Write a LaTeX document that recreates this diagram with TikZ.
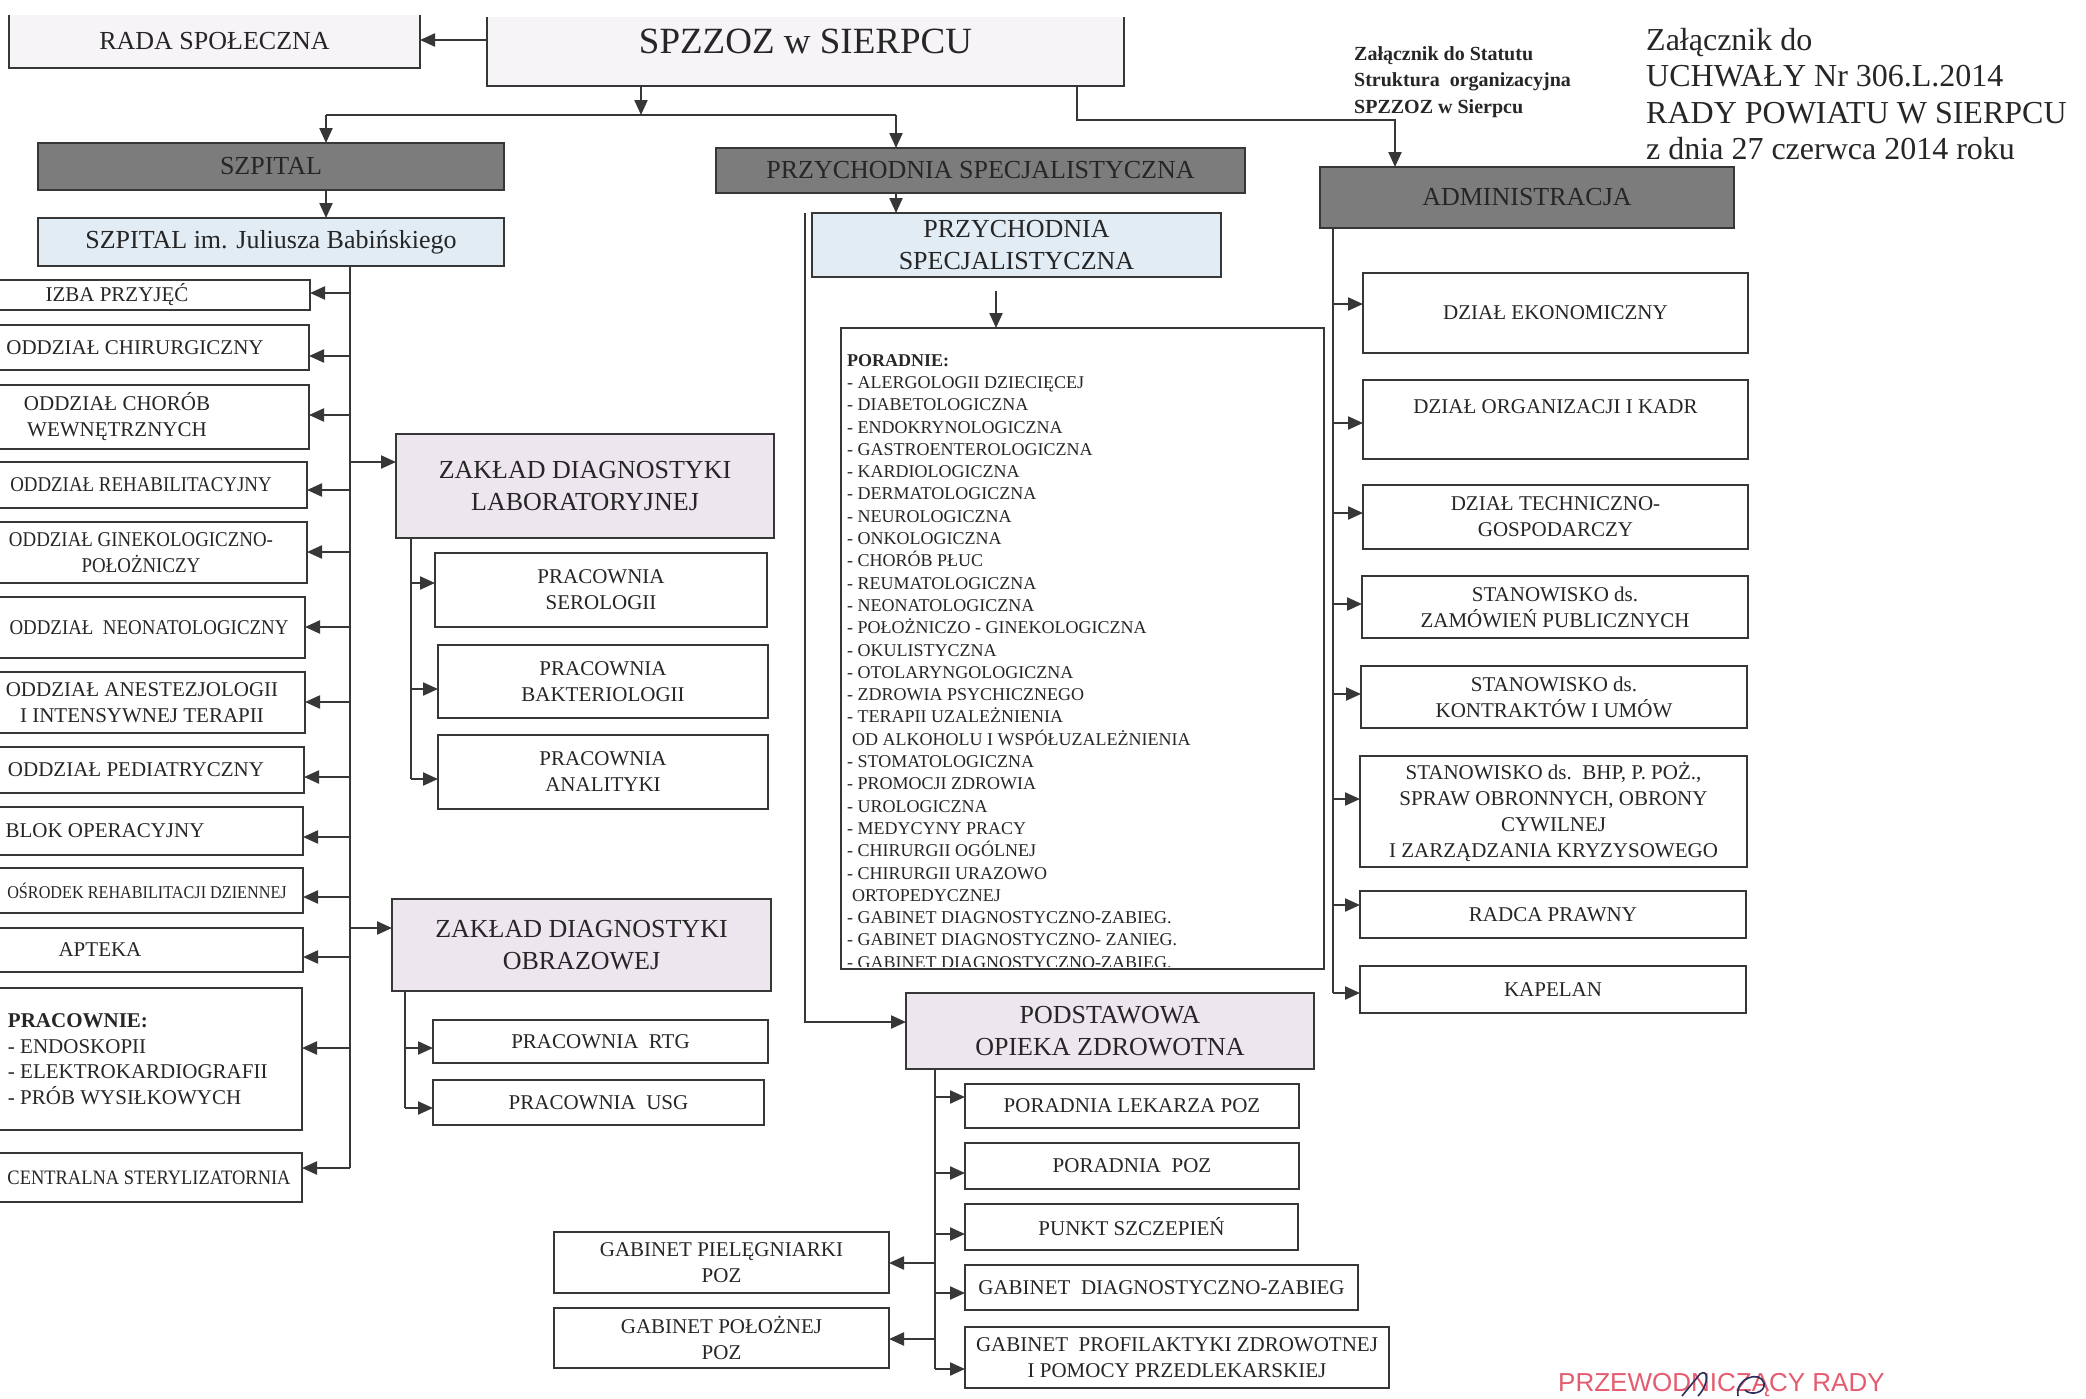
\documentclass[tikz,border=0pt]{standalone}
\usepackage{fontspec}
\setmainfont{Liberation Serif}
\newfontfamily\sansf{Liberation Sans}
\newfontfamily\condf{Liberation Serif}[FakeStretch=0.9]
\usetikzlibrary{arrows.meta}
\definecolor{lc}{RGB}{55,55,55}
\definecolor{tc}{RGB}{38,38,38}
\definecolor{dk}{RGB}{124,124,124}
\definecolor{lblue}{RGB}{226,236,244}
\definecolor{lpink}{RGB}{238,230,238}
\definecolor{lwhite}{RGB}{247,244,247}
\definecolor{stamp}{RGB}{228,92,112}
\definecolor{ink}{RGB}{40,45,90}
\newcommand{\fs}[2]{\fontsize{#1}{#2}\selectfont}
\newcommand{\mybox}[7]{\node[#6, minimum width={(#4)-(#2)}, minimum height={(#5)-(#3)}] (#1) at ({((#2)+(#4))/2},{((#3)+(#5))/2}) {#7};}
\begin{document}
\begin{tikzpicture}[x=1pt,y=-1pt,
 base/.style={draw=lc, line width=2.4pt, inner sep=0pt, outer sep=0pt, align=center, text=tc},
 darkbox/.style={base, fill=dk, font=\fs{26}{32}},
 lightbox/.style={base, font=\fs{26}{32}},
 plainbox/.style={base, fill=white, font=\fs{21}{26}},
 openbox/.style={inner sep=0pt, outer sep=0pt, align=center, text=tc, fill=lwhite},
 txt/.style={inner sep=0pt, outer sep=0pt, align=center, text=tc, font=\fs{21}{26}},
 ctxt/.style={txt, font=\condf\fs{21}{26}},
 arr/.style={draw=lc, line width=2.2pt, -{Triangle[length=15pt,width=13pt]}},
 ln/.style={draw=lc, line width=2.2pt},
 bord/.style={draw=lc, line width=2.4pt},
]
\path[use as bounding box, fill=white] (0,0) rectangle (2086,1398);

% ---------- top ----------
\mybox{rada}{9}{15}{420}{68}{openbox, font=\fs{26}{32}}{RADA SPOŁECZNA}
\draw[bord] (rada.north west) -- (rada.south west) -- (rada.south east) -- (rada.north east);
\mybox{spzzoz}{487}{17}{1124}{86}{openbox, font=\fs{37}{44}}{\raisebox{10.5pt}[\height][\depth]{SPZZOZ w SIERPCU}}
\draw[bord] (spzzoz.north west) -- (spzzoz.south west) -- (spzzoz.south east) -- (spzzoz.north east);
\coordinate (r0) at (487,40);
\draw[arr] (r0) -- (r0 -| rada.east);

\mybox{szpital}{38}{143}{504}{190}{darkbox}{SZPITAL}
\mybox{szpim}{38}{218}{504}{266}{lightbox, fill=lblue}{SZPITAL im. Juliusza Babińskiego}
\mybox{psd}{716}{148}{1245}{193}{darkbox}{PRZYCHODNIA SPECJALISTYCZNA}
\mybox{psl}{812}{213}{1221}{277}{lightbox, fill=lblue}{PRZYCHODNIA\\SPECJALISTYCZNA}
\mybox{admin}{1320}{167}{1734}{228}{darkbox}{ADMINISTRACJA}

\coordinate (j1) at (641,115);
\coordinate (jl) at (326,115);
\coordinate (jr) at (896,115);
\draw[arr] (spzzoz.south -| j1) -- (j1);
\draw[ln] (jl) -- (jr);
\draw[arr] (jl) -- (jl |- szpital.north);
\draw[arr] (jr) -- (jr |- psd.north);
\draw[arr] (szpital.south -| jl) -- (szpim.north -| jl);
\draw[arr] (psd.south -| jr) -- (psl.north -| jr);
\coordinate (ja) at (1077,120);
\coordinate (jb) at (1395,120);
\draw[arr] (spzzoz.south -| ja) -- (ja) -- (jb) -- (jb |- admin.north);

% ---------- hospital: boxes (left edge beyond the page) ----------
\mybox{izba}{-75}{280}{310}{310}{plainbox}{}
\mybox{chir}{-75}{325}{309}{370}{plainbox}{}
\mybox{wewn}{-75}{385}{309}{449}{plainbox}{}
\mybox{rehab}{-75}{462}{307}{508}{plainbox}{}
\mybox{gin}{-75}{522}{307}{583}{plainbox}{}
\mybox{neo}{-75}{597}{305}{658}{plainbox}{}
\mybox{anest}{-75}{672}{305}{733}{plainbox}{}
\mybox{ped}{-75}{747}{304}{793}{plainbox}{}
\mybox{blok}{-75}{807}{303}{855}{plainbox}{}
\mybox{osr}{-75}{868}{303}{913}{plainbox}{}
\mybox{apt}{-75}{928}{303}{972}{plainbox}{}
\mybox{prac}{-75}{988}{302}{1130}{plainbox}{}
\mybox{ster}{-75}{1153}{302}{1202}{plainbox}{}
% texts kept inside the visible part of each box
\node[txt]  (izbaT)  at (117,295)   {IZBA PRZYJĘĆ};
\node[txt]  (chirT)  at (135,347.5) {ODDZIAŁ CHIRURGICZNY};
\node[txt]  (wewnT)  at (117,417)   {ODDZIAŁ CHORÓB\\WEWNĘTRZNYCH};
\node[ctxt] (rehabT) at (141,485)   {ODDZIAŁ REHABILITACYJNY};
\node[ctxt] (ginT)   at (141,552.5) {ODDZIAŁ GINEKOLOGICZNO-\\POŁOŻNICZY};
\node[ctxt] (neoT)   at (149,627.5) {ODDZIAŁ~~NEONATOLOGICZNY};
\node[txt]  (anestT) at (142,702.5) {ODDZIAŁ ANESTEZJOLOGII\\I INTENSYWNEJ TERAPII};
\node[txt]  (pedT)   at (136,770)   {ODDZIAŁ PEDIATRYCZNY};
\node[txt]  (blokT)  at (105,831)   {BLOK OPERACYJNY};
\node[ctxt, font=\condf\fs{18}{22}] (osrT) at (147,890.5) {OŚRODEK REHABILITACJI DZIENNEJ};
\node[txt]  (aptT)   at (100,950)   {APTEKA};
\node[txt, anchor=west, align=left, font=\fs{21}{25.5}] (pracT) at (8,1059) {\textbf{PRACOWNIE:}\\- ENDOSKOPII\\- ELEKTROKARDIOGRAFII\\- PRÓB WYSIŁKOWYCH};
\node[ctxt, font=\condf\fs{20.5}{25}] (sterT) at (149,1177.5) {CENTRALNA STERYLIZATORNIA};

\coordinate (ht) at (350,1168);
\draw[ln] (szpim.south -| ht) -- (ht);
\foreach \n/\yy in {izba/293, chir/356, wewn/415, rehab/490, gin/552, neo/627, anest/702, ped/777, blok/837, osr/897, apt/957, prac/1048, ster/1168}
  {\coordinate (t) at (350,\yy); \draw[arr] (t) -- (t -| \n.east);}

\mybox{zdl}{396}{434}{774}{538}{lightbox, fill=lpink}{ZAKŁAD DIAGNOSTYKI\\LABORATORYJNEJ}
\mybox{ser}{435}{553}{767}{627}{plainbox}{PRACOWNIA\\SEROLOGII}
\mybox{bak}{438}{645}{768}{718}{plainbox}{PRACOWNIA\\BAKTERIOLOGII}
\mybox{ana}{438}{735}{768}{809}{plainbox}{PRACOWNIA\\ANALITYKI}
\coordinate (t1) at (350,462);
\draw[arr] (t1) -- (t1 -| zdl.west);
\coordinate (lt) at (411,779);
\draw[ln] (zdl.south -| lt) -- (lt);
\foreach \n/\yy in {ser/583, bak/689, ana/779}
  {\coordinate (t) at (411,\yy); \draw[arr] (t) -- (t -| \n.west);}

\mybox{zdo}{392}{899}{771}{991}{lightbox, fill=lpink}{ZAKŁAD DIAGNOSTYKI\\OBRAZOWEJ}
\mybox{rtg}{433}{1020}{768}{1063}{plainbox}{PRACOWNIA~~RTG}
\mybox{usg}{433}{1080}{764}{1125}{plainbox}{PRACOWNIA~~USG}
\coordinate (t2) at (350,928);
\draw[arr] (t2) -- (t2 -| zdo.west);
\coordinate (ot) at (405,1108);
\draw[ln] (zdo.south -| ot) -- (ot);
\foreach \n/\yy in {rtg/1048, usg/1108}
  {\coordinate (t) at (405,\yy); \draw[arr] (t) -- (t -| \n.west);}

% ---------- przychodnia ----------
\mybox{por}{841}{328}{1324}{969}{base, fill=white}{}
\begin{scope}
\clip (842,330) rectangle (1323,966);
\node[anchor=north west, align=left, inner sep=0pt, text=tc, font=\fs{18}{22.3}] (porlist) at (847,354) {\textbf{PORADNIE:}\\
- ALERGOLOGII DZIECIĘCEJ\\
- DIABETOLOGICZNA\\
- ENDOKRYNOLOGICZNA\\
- GASTROENTEROLOGICZNA\\
- KARDIOLOGICZNA\\
- DERMATOLOGICZNA\\
- NEUROLOGICZNA\\
- ONKOLOGICZNA\\
- CHORÓB PŁUC\\
- REUMATOLOGICZNA\\
- NEONATOLOGICZNA\\
- POŁOŻNICZO - GINEKOLOGICZNA\\
- OKULISTYCZNA\\
- OTOLARYNGOLOGICZNA\\
- ZDROWIA PSYCHICZNEGO\\
- TERAPII UZALEŻNIENIA\\
\hspace*{5pt}OD ALKOHOLU I WSPÓŁUZALEŻNIENIA\\
- STOMATOLOGICZNA\\
- PROMOCJI ZDROWIA\\
- UROLOGICZNA\\
- MEDYCYNY PRACY\\
- CHIRURGII OGÓLNEJ\\
- CHIRURGII URAZOWO\\
\hspace*{5pt}ORTOPEDYCZNEJ\\
- GABINET DIAGNOSTYCZNO-ZABIEG.\\
- GABINET DIAGNOSTYCZNO- ZANIEG.\\
- GABINET DIAGNOSTYCZNO-ZABIEG.};
\end{scope}
\coordinate (pa) at (996,291);
\draw[arr] (pa) -- (pa |- por.north);

\mybox{poz}{906}{993}{1314}{1069}{lightbox, fill=lpink}{PODSTAWOWA\\OPIEKA ZDROWOTNA}
\coordinate (pl) at (805,213);
\coordinate (pl2) at (805,1022);
\draw[arr] (pl) -- (pl2) -- (pl2 -| poz.west);

\mybox{lek}{965}{1084}{1299}{1128}{plainbox}{PORADNIA LEKARZA POZ}
\mybox{pozp}{965}{1143}{1299}{1189}{plainbox}{PORADNIA~~POZ}
\mybox{szcz}{965}{1204}{1298}{1250}{plainbox}{PUNKT SZCZEPIEŃ}
\mybox{diag}{965}{1265}{1358}{1310}{plainbox}{GABINET~~DIAGNOSTYCZNO-ZABIEG}
\mybox{prof}{965}{1327}{1389}{1388}{plainbox}{GABINET~~PROFILAKTYKI ZDROWOTNEJ\\I POMOCY PRZEDLEKARSKIEJ}
\mybox{piel}{554}{1232}{889}{1293}{plainbox}{GABINET PIELĘGNIARKI\\POZ}
\mybox{pol}{554}{1308}{889}{1368}{plainbox}{GABINET POŁOŻNEJ\\POZ}
\coordinate (pt) at (935,1369);
\draw[ln] (poz.south -| pt) -- (pt);
\foreach \n/\yy in {lek/1097, pozp/1173, szcz/1234, diag/1293, prof/1369}
  {\coordinate (t) at (935,\yy); \draw[arr] (t) -- (t -| \n.west);}
\foreach \n/\yy in {piel/1263, pol/1339}
  {\coordinate (t) at (935,\yy); \draw[arr] (t) -- (t -| \n.east);}

% ---------- administracja ----------
\mybox{eko}{1363}{273}{1748}{353}{plainbox}{DZIAŁ EKONOMICZNY}
\mybox{org}{1363}{380}{1748}{459}{plainbox}{DZIAŁ ORGANIZACJI I KADR\\\mbox{}}
\mybox{tech}{1363}{485}{1748}{549}{plainbox}{DZIAŁ TECHNICZNO-\\GOSPODARCZY}
\mybox{zam}{1362}{576}{1748}{638}{plainbox}{STANOWISKO ds.\\ZAMÓWIEŃ PUBLICZNYCH}
\mybox{kon}{1361}{666}{1747}{728}{plainbox}{STANOWISKO ds.\\KONTRAKTÓW I UMÓW}
\mybox{bhp}{1360}{756}{1747}{867}{plainbox}{STANOWISKO ds.~~BHP, P. POŻ.,\\SPRAW OBRONNYCH, OBRONY\\CYWILNEJ\\I ZARZĄDZANIA KRYZYSOWEGO}
\mybox{radca}{1360}{891}{1746}{938}{plainbox}{RADCA PRAWNY}
\mybox{kap}{1360}{966}{1746}{1013}{plainbox}{KAPELAN}
\coordinate (at) at (1333,993);
\draw[ln] (admin.south -| at) -- (at);
\foreach \n/\yy in {eko/304, org/423, tech/513, zam/604, kon/694, bhp/799, radca/905, kap/993}
  {\coordinate (t) at (1333,\yy); \draw[arr] (t) -- (t -| \n.west);}

% ---------- notes ----------
\node[anchor=north west, align=left, inner sep=0pt, text=tc, font=\bfseries\fs{20}{26.5}] (zal1) at (1354,46) {Załącznik do Statutu\\Struktura~~organizacyjna\\SPZZOZ w Sierpcu};
\node[anchor=north west, align=left, inner sep=0pt, text=tc, font=\fs{32}{36.5}] (zal2) at (1646,28) {Załącznik do\\UCHWAŁY Nr 306.L.2014\\RADY POWIATU W SIERPCU\\z dnia 27 czerwca 2014 roku};
\node[anchor=base west, inner sep=0pt, text=stamp, font=\sansf\fs{26}{30}] (przew) at (1558,1391) {PRZEWODNICZĄCY RADY};
\draw[ink, line width=1.6pt] (1682,1396) -- (1700,1374) .. controls (1708,1368) and (1710,1383) .. (1698,1396);
\draw[ink, line width=1.6pt] (1738,1396) .. controls (1735,1378) and (1760,1370) .. (1764,1383) .. controls (1766,1393) and (1750,1396) .. (1745,1390);
\end{tikzpicture}
\end{document}
